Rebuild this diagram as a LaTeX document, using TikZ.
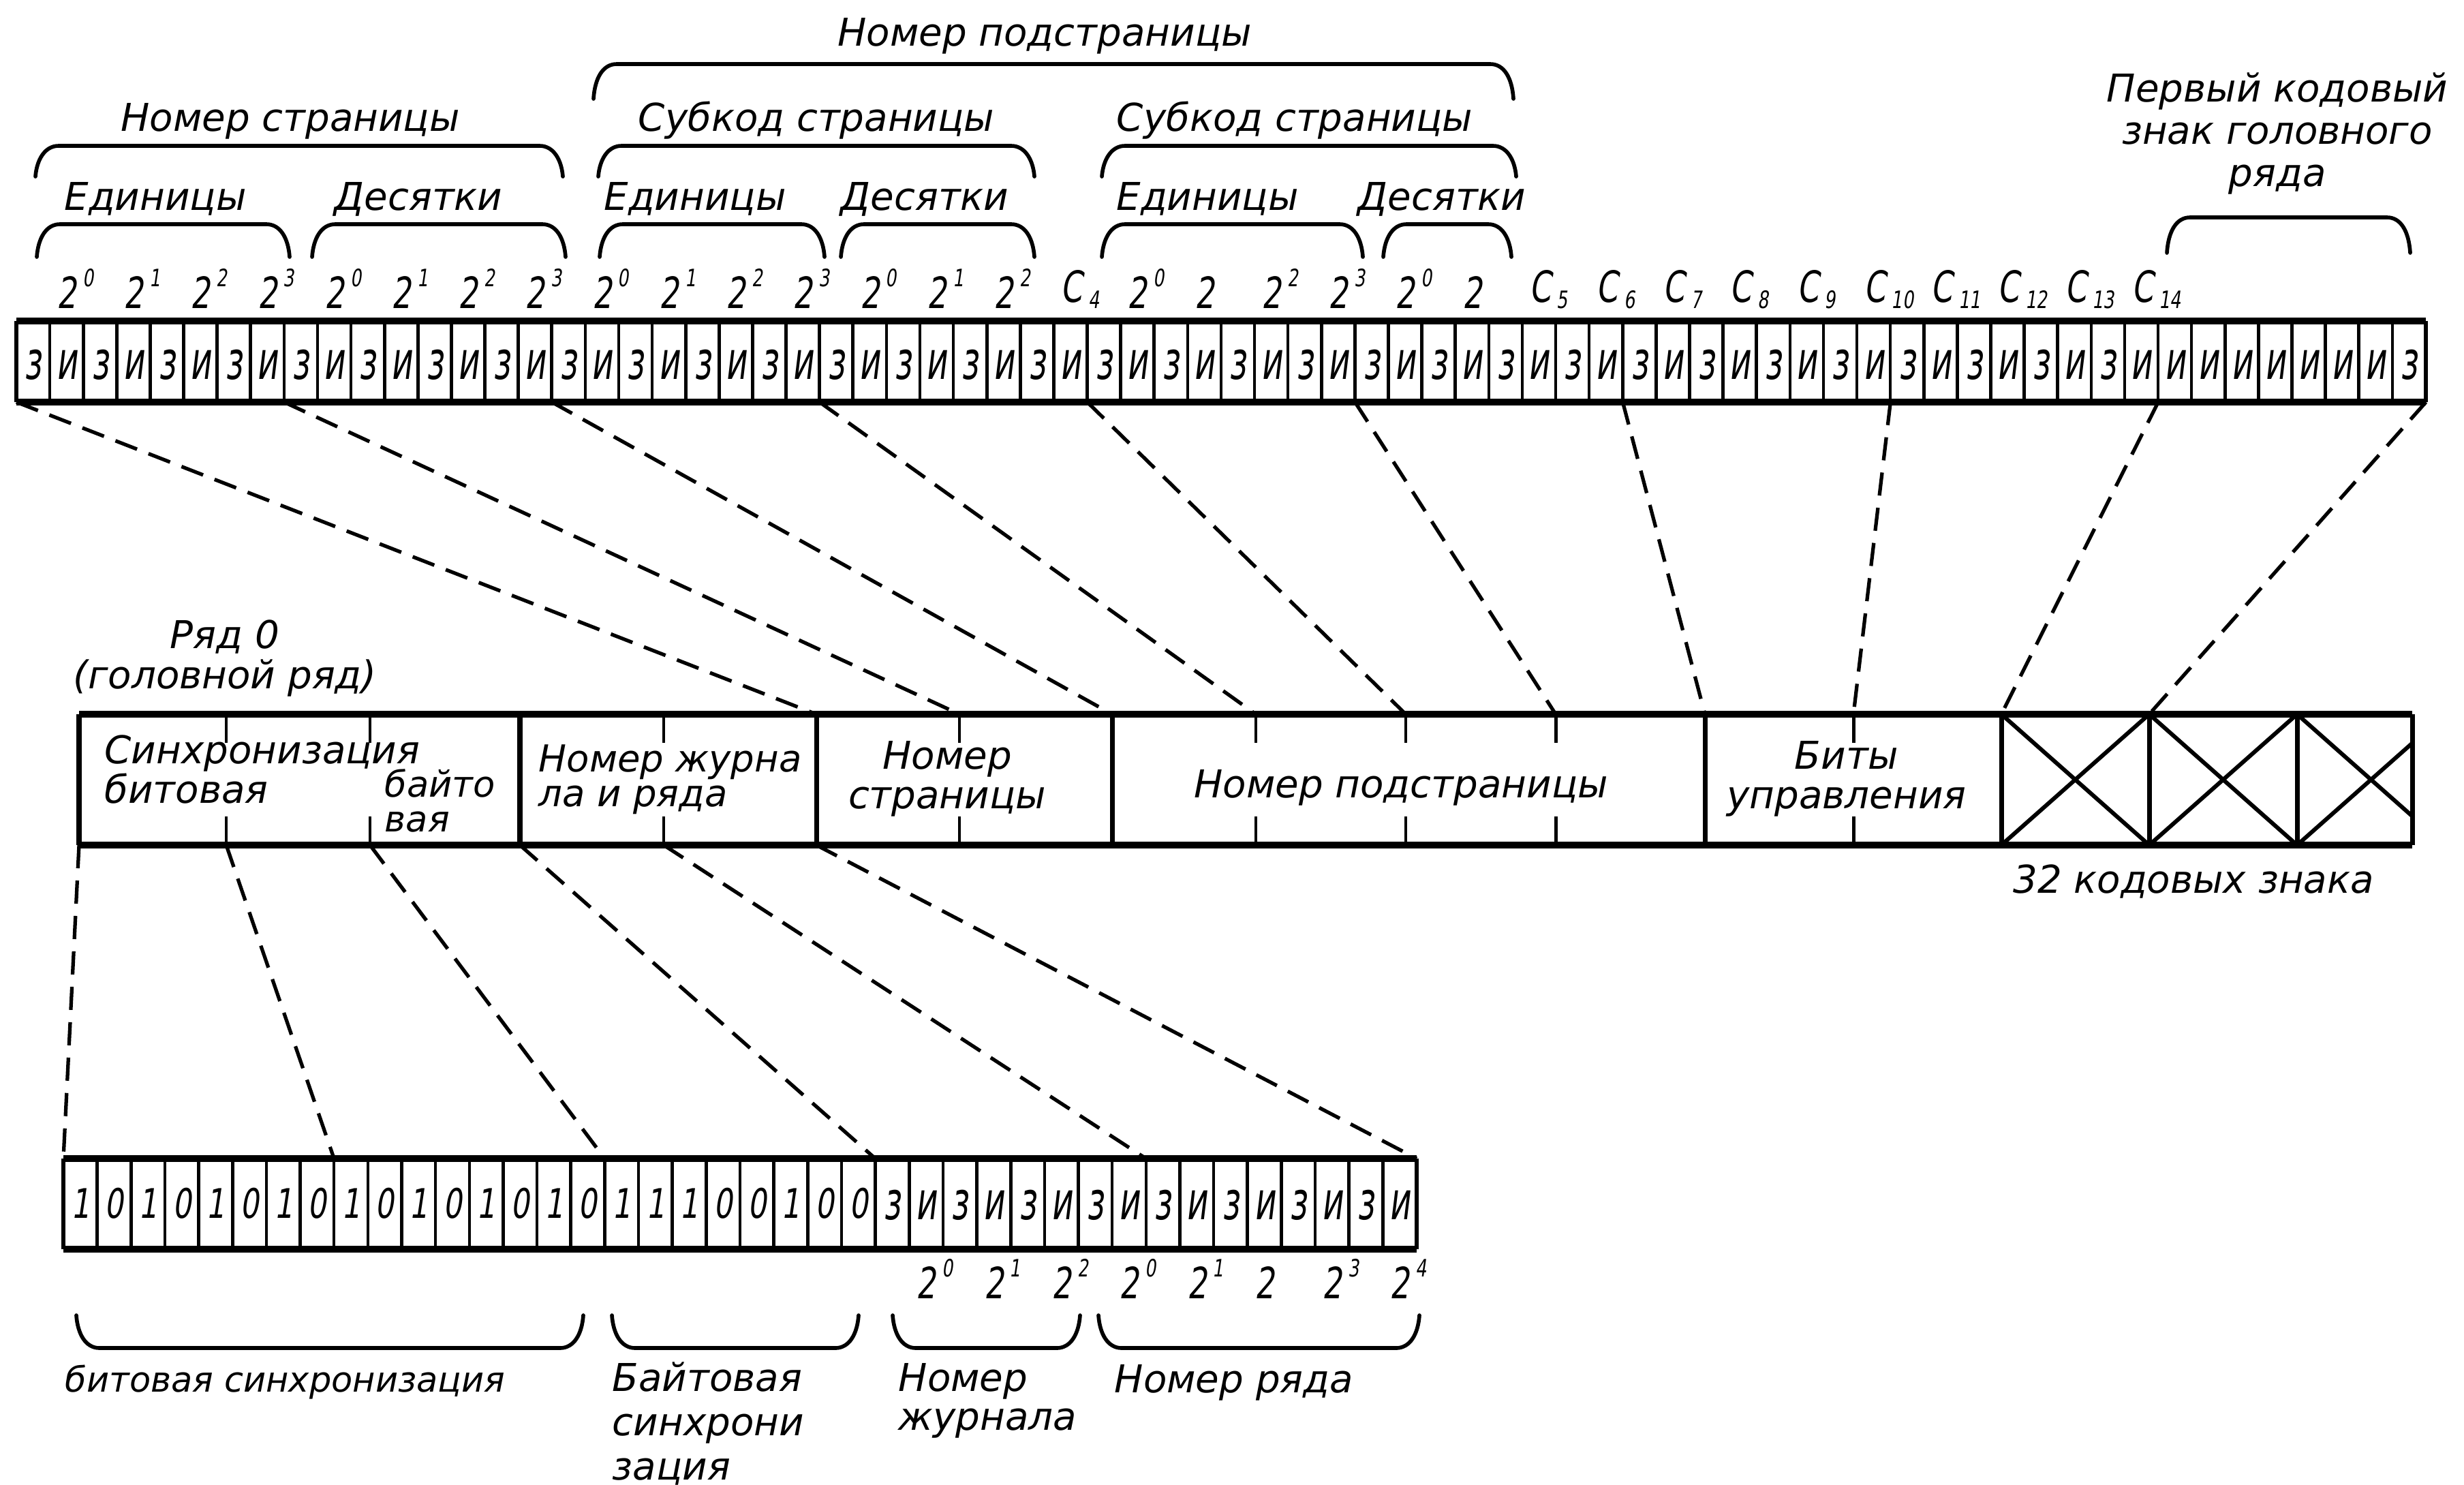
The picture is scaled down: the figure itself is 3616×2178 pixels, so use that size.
\documentclass[tikz,border=0pt]{standalone}
\usepackage{fontspec}
\setmainfont{DejaVu Sans}[ItalicFont={* Oblique}]
\newfontfamily\cellf{DejaVu Sans}[FakeSlant=0.12,FakeStretch=0.62]
\newfontfamily\numf{DejaVu Sans}[FakeSlant=0.15,FakeStretch=0.72]
\newcommand\gsup[1]{\kern2.5pt\raisebox{0.5em}{\fontsize{10}{10}\selectfont #1}}
\newcommand\gsub[1]{\kern2.5pt\raisebox{-0.15em}{\fontsize{10}{10}\selectfont #1}}
\newcommand\gbraceT[4]{\draw[brace] (#1,#4) .. controls (#1+2,#3+20) and (#1+14,#3) .. (#1+34,#3) -- (#2-34,#3) .. controls (#2-14,#3) and (#2-2,#3+20) .. (#2,#4);}
\newcommand\gbraceB[4]{\draw[brace] (#1,#4) .. controls (#1+2,#3-20) and (#1+14,#3) .. (#1+34,#3) -- (#2-34,#3) .. controls (#2-14,#3) and (#2-2,#3-20) .. (#2,#4);}
\begin{document}
\begin{tikzpicture}[x=0.01cm,y=-0.01cm,
  thickrow/.style={line width=2.8pt,line cap=square},
  sep/.style={line width=1.3pt},
  edge/.style={line width=1.8pt},
  tick/.style={line width=1.4pt},
  divider/.style={line width=2pt},
  brace/.style={line width=1.6pt,line cap=round},
  conn/.style={line width=1.5pt,dash pattern=on 0.34cm off 0.18cm},
  xline/.style={line width=1.7pt},
  lbl/.style={inner sep=0pt,font=\fontsize{16}{18}\selectfont\itshape},
  cell/.style={inner sep=0pt,font=\cellf\fontsize{22}{22}\selectfont},
  bit/.style={inner sep=0pt,font=\numf\fontsize{17}{17}\selectfont},
  pw/.style={inner sep=0pt,font=\numf\fontsize{18}{18}\selectfont,anchor=base west}]
\useasboundingbox (0,0) rectangle (3616,2178);
\fill[white] (0,0) rectangle (3616,2178);

% ---------- top headings and braces ----------
\node[lbl,anchor=base] (nps) at (1533,67) {Номер подстраницы};
\gbraceT{871}{2221}{94}{145}
\node[lbl,anchor=base] (nstr) at (426,192) {Номер страницы};
\node[lbl,anchor=base] (sub1) at (1198,192) {Субкод страницы};
\node[lbl,anchor=base] (sub2) at (1900,192) {Субкод страницы};
\gbraceT{52}{826}{214}{259}
\gbraceT{878}{1518}{214}{259}
\gbraceT{1617}{2225}{214}{259}
\node[lbl,anchor=base] (ed1) at (228,308) {Единицы};
\node[lbl,anchor=base] (de1) at (614,308) {Десятки};
\node[lbl,anchor=base] (ed2) at (1020,308) {Единицы};
\node[lbl,anchor=base] (de2) at (1357,308) {Десятки};
\node[lbl,anchor=base] (ed3) at (1772,308) {Единицы};
\node[lbl,anchor=base] (de3) at (2116,308) {Десятки};
\gbraceT{54}{425}{329}{377}
\gbraceT{458}{830}{329}{377}
\gbraceT{880}{1210}{329}{377}
\gbraceT{1234}{1518}{329}{377}
\gbraceT{1617}{2000}{329}{377}
\gbraceT{2030}{2218}{329}{377}
\node[lbl,align=center,font=\fontsize{16}{17.5}\selectfont\itshape] (first) at (3342,196) {Первый кодовый\\знак головного\\ряда};
\gbraceT{3180}{3537}{319}{371}

% ---------- labels over the top row ----------
\foreach \i/\txt in {2/{2\gsup{0}},4/{2\gsup{1}},6/{2\gsup{2}},8/{2\gsup{3}},10/{2\gsup{0}},12/{2\gsup{1}},14/{2\gsup{2}},16/{2\gsup{3}},18/{2\gsup{0}},20/{2\gsup{1}},22/{2\gsup{2}},24/{2\gsup{3}},26/{2\gsup{0}},28/{2\gsup{1}},30/{2\gsup{2}},34/{2\gsup{0}},36/{2},38/{2\gsup{2}},40/{2\gsup{3}},42/{2\gsup{0}},44/{2}}
  \node[pw] (lab\i) at ({24+49.11*(\i-0.5)-15},452) {\txt};
\foreach \i/\txt in {32/4,46/5,48/6,50/7,52/8,54/9,56/10,58/11,60/12,62/13,64/14}
  \node[pw] (lab\i) at ({24+49.11*(\i-0.5)-15},443) {C\gsub{\txt}};

% ---------- top row ----------
\foreach \i in {1,...,71} \draw[sep] ({24+49.11*\i},471) -- ({24+49.11*\i},590);
\draw[edge] (24,471) -- (24,590) (3560,471) -- (3560,590);
\draw[thickrow] (24,471) -- (3560,471) (24,590) -- (3560,590);
\foreach \i in {1,...,72}{
  \ifnum\i>64 \ifnum\i=72 \def\ch{з}\else\def\ch{и}\fi
  \else \ifodd\i \def\ch{з}\else\def\ch{и}\fi \fi
  \node[cell] (t\i) at ({24+49.11*(\i-0.5)},535) {\ch};
}

% ---------- middle row ----------
\node[lbl,align=center,font=\fontsize{16}{17}\selectfont\itshape] (row0) at (330,966) {Ряд 0\\(головной ряд)};
\draw[divider] (116,1048) -- (116,1240) (3540,1048) -- (3540,1240);
\foreach \x in {763,1198,1632,2502,2937,3154,3371} \draw[divider] (\x,1048) -- (\x,1240);
\foreach \x in {332,543,974,1408,1843,2063,2283,2720} \draw[tick] (\x,1048) -- (\x,1090) (\x,1240) -- (\x,1198);
\draw[xline] (2937,1048) -- (3154,1240) (2937,1240) -- (3154,1048)
             (3154,1048) -- (3371,1240) (3154,1240) -- (3371,1048);
\begin{scope}
  \clip (3371,1040) rectangle (3540,1250);
  \draw[xline] (3371,1048) -- (3588,1240) (3371,1240) -- (3588,1048);
\end{scope}
\draw[thickrow] (116,1048) -- (3540,1048) (116,1240) -- (3540,1240);
\node[lbl,align=left,anchor=north west,font=\fontsize{16}{16.5}\selectfont\itshape] (sync) at (153,1078) {Синхронизация\\битовая};
\node[lbl,align=left,anchor=north west,font=\fontsize{15}{14.5}\selectfont\itshape] (bsync) at (564,1128) {байто\\вая};
\node[lbl,align=left,anchor=north west,font=\fontsize{15.5}{14.5}\selectfont\itshape] (mag) at (790,1092) {Номер журна\\ла и ряда};
\node[lbl,align=center,font=\fontsize{16}{16.5}\selectfont\itshape] (pg) at (1390,1143) {Номер\\страницы};
\node[lbl,anchor=base] (sp) at (2056,1170) {Номер подстраницы};
\node[lbl,align=center,font=\fontsize{16}{16.5}\selectfont\itshape] (ctl) at (2710,1143) {Биты\\управления};
\node[lbl,anchor=base] (n32) at (3219,1310) {32 кодовых знака};

% ---------- bottom row ----------
\foreach \i in {1,...,39} \draw[sep] ({93+49.65*\i},1700) -- ({93+49.65*\i},1833);
\draw[edge] (93,1700) -- (93,1833) (2079,1700) -- (2079,1833);
\draw[thickrow] (93,1700) -- (2079,1700) (93,1833) -- (2079,1833);
\foreach \i in {1,...,16}{
  \ifodd\i \def\ch{1}\else\def\ch{0}\fi
  \node[bit] (b\i) at ({93+49.65*(\i-0.5)},1766) {\ch};
}
\foreach \i/\c in {17/1,18/1,19/1,20/0,21/0,22/1,23/0,24/0}
  \node[bit] (b\i) at ({93+49.65*(\i-0.5)},1766) {\c};
\foreach \i in {25,...,40}{
  \ifodd\i \def\ch{з}\else\def\ch{и}\fi
  \node[cell] (b\i) at ({93+49.65*(\i-0.5)},1768) {\ch};
}
\foreach \i/\txt in {26/{2\gsup{0}},28/{2\gsup{1}},30/{2\gsup{2}},32/{2\gsup{0}},34/{2\gsup{1}},36/{2},38/{2\gsup{3}},40/{2\gsup{4}}}
  \node[pw] (bl\i) at ({93+49.65*(\i-0.5)-15},1905) {\txt};
\gbraceB{112}{856}{1978}{1930}
\gbraceB{898}{1260}{1978}{1930}
\gbraceB{1310}{1585}{1978}{1930}
\gbraceB{1612}{2083}{1978}{1930}
\node[lbl,anchor=base west,font=\fontsize{14.5}{17}\selectfont\itshape] (tbs) at (95,2042) {битовая синхронизация};
\node[lbl,align=left,anchor=north west,font=\fontsize{16}{18.5}\selectfont\itshape] (tby) at (898,1998) {Байтовая\\синхрони\\зация};
\node[lbl,align=left,anchor=north west,font=\fontsize{16}{16}\selectfont\itshape] (tjr) at (1318,2000) {Номер\\журнала};
\node[lbl,anchor=base west] (trw) at (1635,2043) {Номер ряда};

% ---------- dashed connectors ----------
\foreach \k/\mx in {0/1198,1/1408,2/1632,3/1843,4/2063,5/2283,6/2502,7/2720,8/2937,9/3154}{
  \coordinate (T\k) at ({24+392.9*\k},590);
  \coordinate (M\k) at (\mx,1048);
  \draw[conn] (T\k) -- (M\k);
}
\foreach \k/\ux in {0/116,1/332,2/543,3/763,4/974,5/1198}{
  \coordinate (U\k) at (\ux,1240);
  \coordinate (L\k) at ({93+397.2*\k},1700);
  \draw[conn] (U\k) -- (L\k);
}
\end{tikzpicture}
\end{document}
